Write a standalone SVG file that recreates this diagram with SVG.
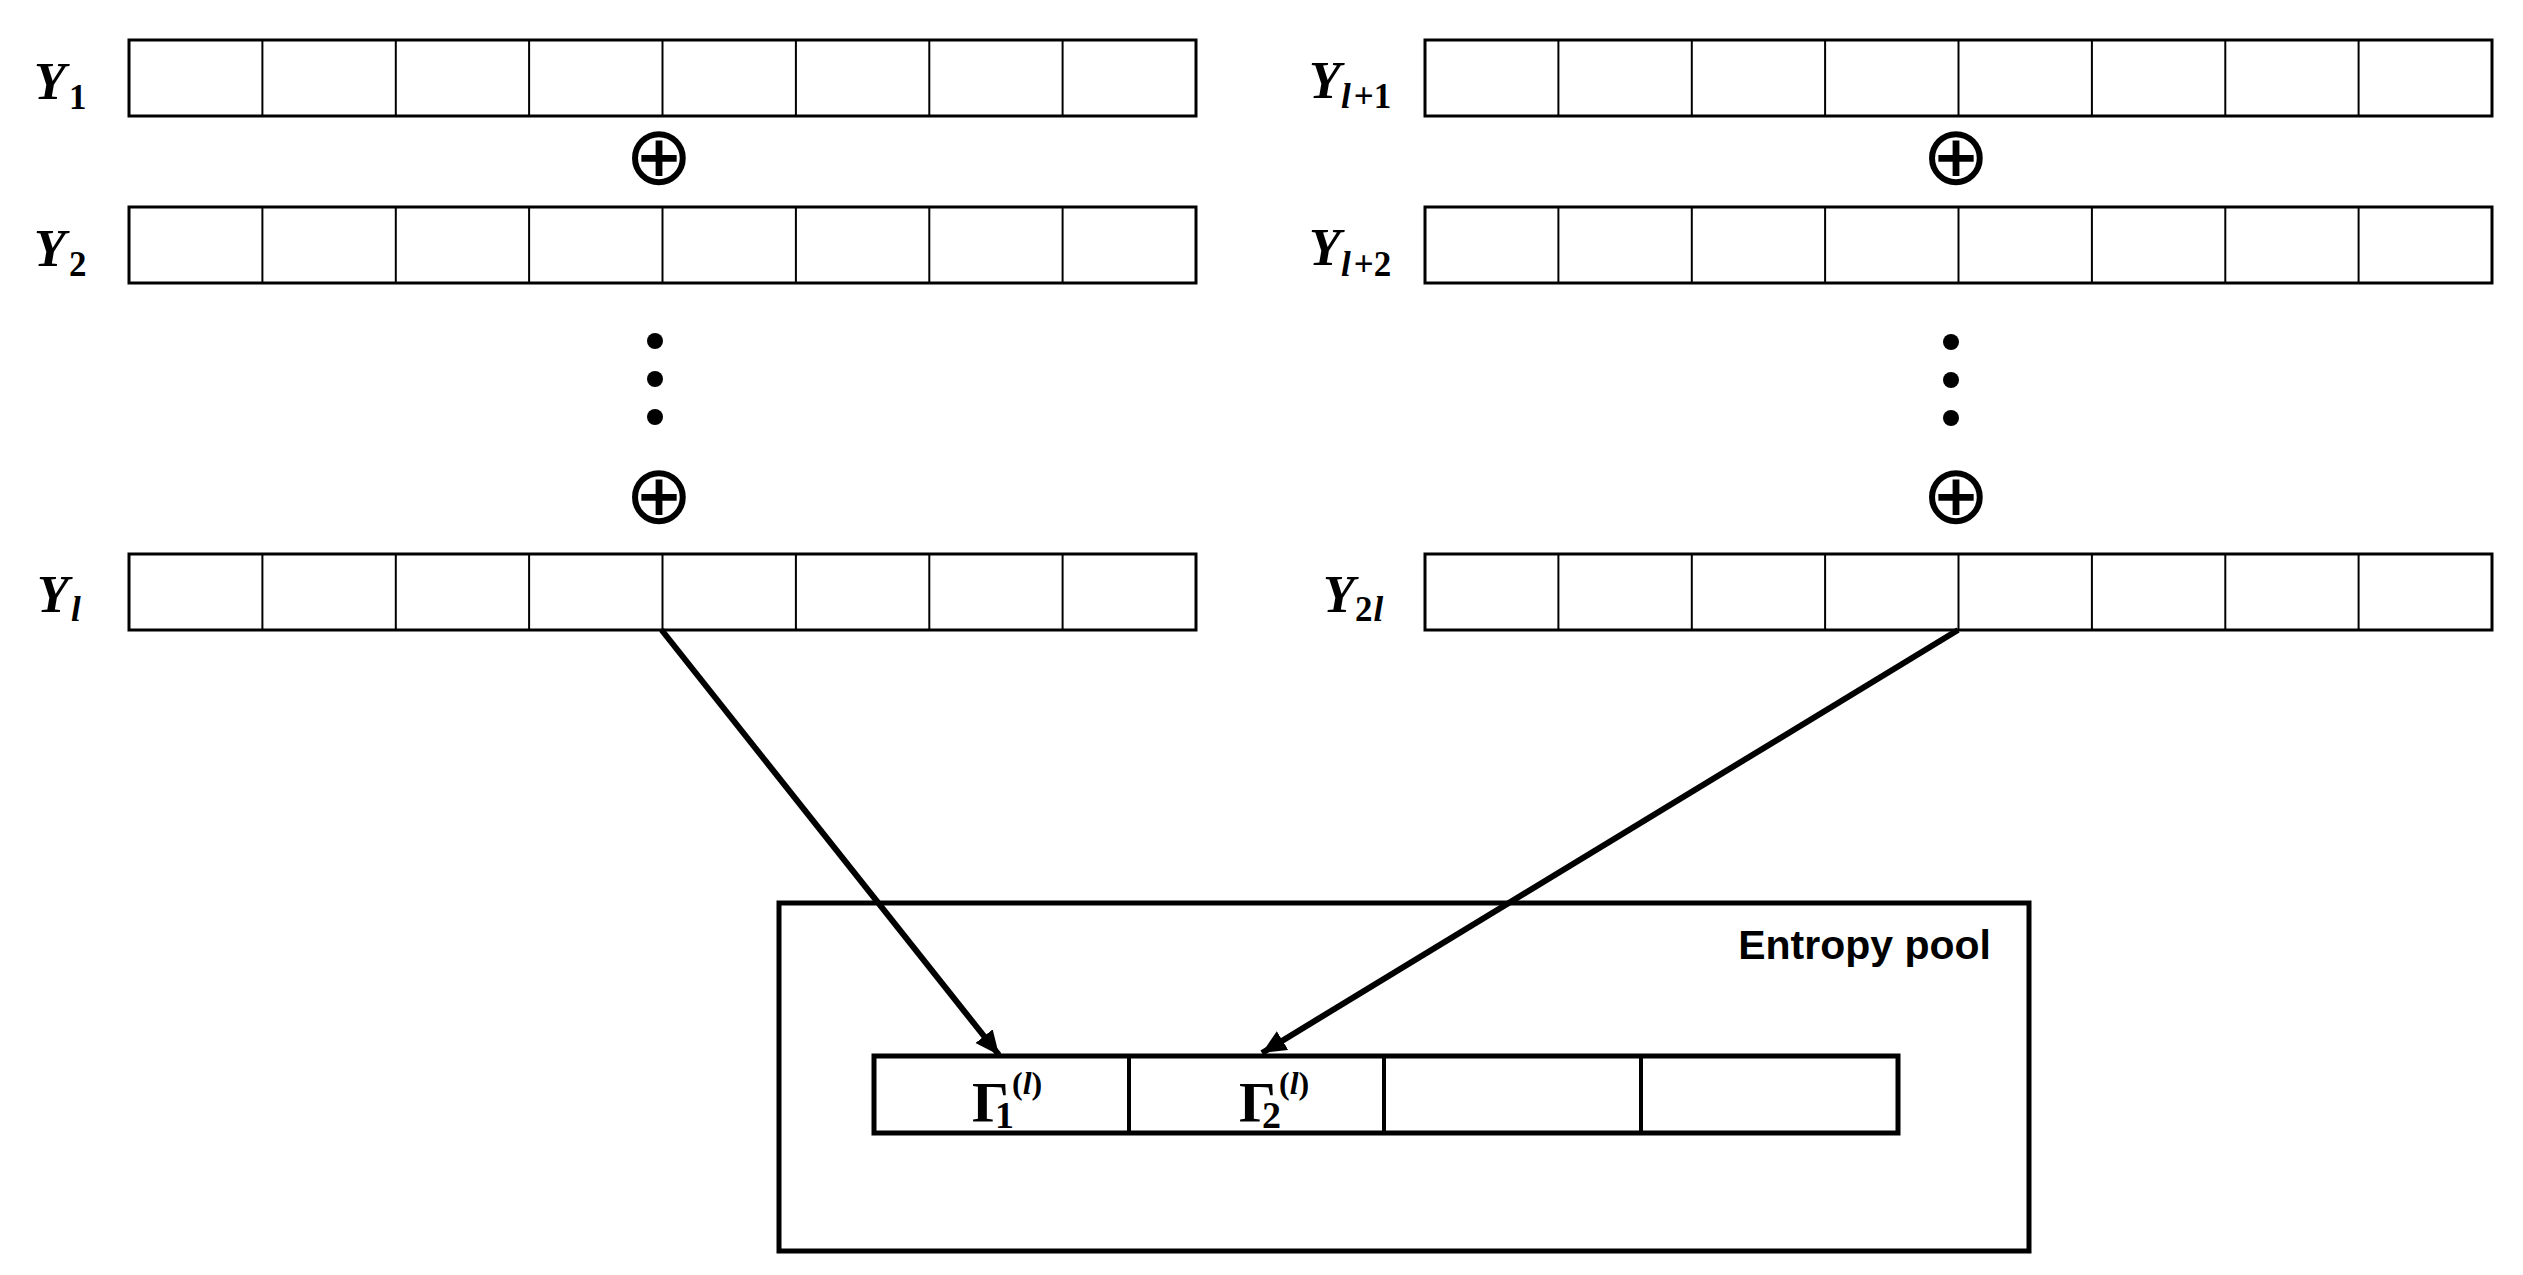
<svg xmlns="http://www.w3.org/2000/svg" width="2523" height="1275" viewBox="0 0 2523 1275">
<style>
.bg{fill:#fff}
.row{fill:#fff;stroke:#000;stroke-width:3}
.div{stroke:#000;stroke-width:2}
.pool{fill:#fff;stroke:#000;stroke-width:5}
.cellrow{fill:#fff;stroke:#000;stroke-width:5}
.cdiv{stroke:#000;stroke-width:4}
.conn{stroke:#000;stroke-width:6;fill:none}
.Y{font-family:"Liberation Serif",serif;font-weight:bold;font-style:italic;font-size:52px;fill:#000}
.subi{font-family:"Liberation Serif",serif;font-weight:bold;font-style:italic;font-size:35px}
.subn{font-family:"Liberation Serif",serif;font-weight:bold;font-style:normal;font-size:35px}
.xor{font-family:"DejaVu Sans",sans-serif;font-size:82px;fill:#000;text-anchor:middle}
.dot{fill:#000}
.G{font-family:"Liberation Serif",serif;font-weight:bold;font-size:58px;fill:#000}
.gsub{font-family:"Liberation Serif",serif;font-weight:bold;font-size:38px}
.gsup{font-family:"Liberation Serif",serif;font-weight:bold;font-size:32px}
.title{font-family:"Liberation Sans",sans-serif;font-weight:bold;font-size:41px;fill:#000;text-anchor:end}
</style>
<defs>
<g id="cells8">
<rect class="row" x="0" y="0" width="1067" height="76"/>
<line class="div" x1="133.4" y1="0" x2="133.4" y2="76"/>
<line class="div" x1="266.8" y1="0" x2="266.8" y2="76"/>
<line class="div" x1="400.1" y1="0" x2="400.1" y2="76"/>
<line class="div" x1="533.5" y1="0" x2="533.5" y2="76"/>
<line class="div" x1="666.9" y1="0" x2="666.9" y2="76"/>
<line class="div" x1="800.3" y1="0" x2="800.3" y2="76"/>
<line class="div" x1="933.6" y1="0" x2="933.6" y2="76"/>
</g>
<marker id="arrow" markerUnits="userSpaceOnUse" markerWidth="30" markerHeight="24" refX="24" refY="11" orient="auto">
<path d="M0,0 L24,11 L0,22 z" fill="#000"/>
</marker>
</defs>
<rect class="bg" x="0" y="0" width="2523" height="1275"/>

<g id="row-Y1">
<use href="#cells8" x="129" y="40"/>
<text class="Y" x="34" y="99">Y<tspan class="subn" x="69" y="109">1</tspan></text>
</g>
<g id="xor-left-1"><text class="xor" x="659" y="184">⊕</text></g>
<g id="row-Y2">
<use href="#cells8" x="129" y="207"/>
<text class="Y" x="34" y="266">Y<tspan class="subn" x="69" y="276">2</tspan></text>
</g>
<g id="dots-left">
<circle class="dot" cx="655" cy="341" r="8"/>
<circle class="dot" cx="655" cy="379" r="8"/>
<circle class="dot" cx="655" cy="417" r="8"/>
</g>
<g id="xor-left-2"><text class="xor" x="659" y="523">⊕</text></g>
<g id="row-Yl">
<use href="#cells8" x="129" y="554"/>
<text class="Y" x="37" y="612">Y<tspan class="subi" x="71" y="621">l</tspan></text>
</g>

<g id="row-Yl1">
<use href="#cells8" x="1425" y="40"/>
<text class="Y" x="1309" y="98">Y<tspan class="subi" x="1341" y="108">l</tspan><tspan class="subn" dx="3">+1</tspan></text>
</g>
<g id="xor-right-1"><text class="xor" x="1956" y="184">⊕</text></g>
<g id="row-Yl2">
<use href="#cells8" x="1425" y="207"/>
<text class="Y" x="1309" y="265">Y<tspan class="subi" x="1341" y="276">l</tspan><tspan class="subn" dx="3">+2</tspan></text>
</g>
<g id="dots-right">
<circle class="dot" cx="1951" cy="342" r="8"/>
<circle class="dot" cx="1951" cy="380" r="8"/>
<circle class="dot" cx="1951" cy="418" r="8"/>
</g>
<g id="xor-right-2"><text class="xor" x="1956" y="523">⊕</text></g>
<g id="row-Y2l">
<use href="#cells8" x="1425" y="554"/>
<text class="Y" x="1323" y="612">Y<tspan class="subn" x="1355" y="621">2</tspan><tspan class="subi" dx="1">l</tspan></text>
</g>

<g id="entropy-pool">
<rect class="pool" x="779" y="903" width="1250" height="348"/>
<text class="title" x="1991" y="959">Entropy pool</text>
<rect class="cellrow" x="874" y="1056" width="1024" height="77"/>
<line class="cdiv" x1="1129" y1="1056" x2="1129" y2="1133"/>
<line class="cdiv" x1="1384" y1="1056" x2="1384" y2="1133"/>
<line class="cdiv" x1="1641" y1="1056" x2="1641" y2="1133"/>
<text class="G" x="972" y="1122"><tspan letter-spacing="-14">Γ</tspan><tspan class="gsub" y="1128">1</tspan><tspan class="gsup" x="1012" y="1094">(</tspan><tspan class="gsup" font-style="italic">l</tspan><tspan class="gsup">)</tspan></text>
<text class="G" x="1239" y="1122"><tspan letter-spacing="-14">Γ</tspan><tspan class="gsub" y="1128">2</tspan><tspan class="gsup" x="1279" y="1094">(</tspan><tspan class="gsup" font-style="italic">l</tspan><tspan class="gsup">)</tspan></text>
</g>

<g id="connectors">
<line class="conn" x1="661.6" y1="630" x2="999" y2="1055" marker-end="url(#arrow)"/>
<line class="conn" x1="1958" y1="630" x2="1262" y2="1053" marker-end="url(#arrow)"/>
</g>
</svg>
